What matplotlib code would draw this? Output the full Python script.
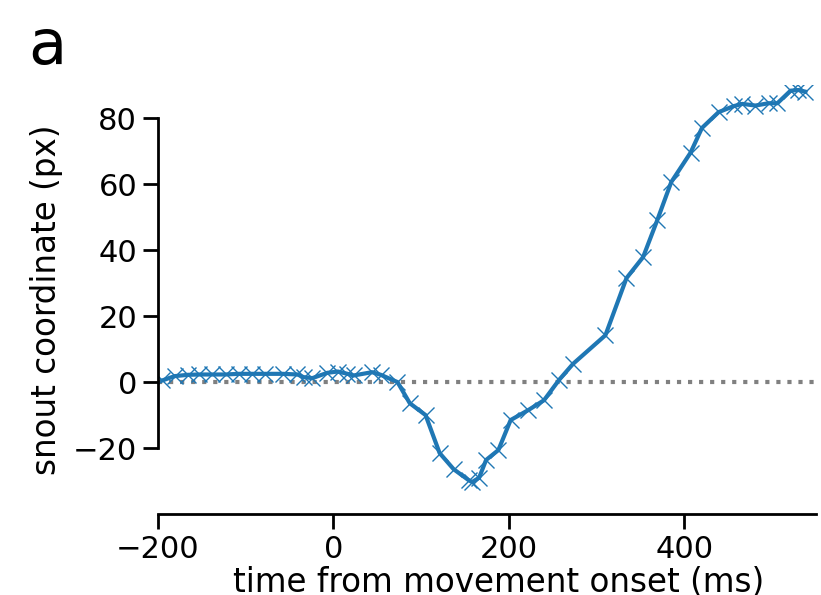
import numpy as np
import matplotlib
matplotlib.use("Agg")
import matplotlib.pyplot as plt

# snout trace (ms, px)
t_ms = [-195, -181, -166, -153, -138, -123, -108, -93, -78, -58,
        -41, -34, -24, -7, 5, 16, 23, 44, 54, 73,
        87, 105, 121, 137, 154, 158, 166, 174, 188, 202,
        222, 240, 257, 273, 310, 334, 353, 369, 385, 407,
        420, 439, 456, 466, 481, 496, 506, 521, 530, 538]
snout = [0.5, 1.8, 2.2, 2.3, 2.3, 2.3, 2.5, 2.5, 2.5, 2.5,
         2.3, 1.5, 1.2, 2.8, 3.2, 2.5, 2.0, 3.0, 2.2, 0.0,
         -6.4, -10.0, -21.5, -26.4, -29.7, -30.3, -29.0, -23.6, -20.6, -11.5,
         -8.5, -5.5, 0.6, 5.5, 14.2, 31.5, 37.9, 49.0, 60.6, 69.5,
         77.0, 81.8, 83.6, 84.3, 83.8, 84.5, 84.5, 88.3, 88.5, 88.0]

xticks = [-200, 0, 200, 400]
yticks = [-20, 0, 20, 40, 60, 80]

fig = plt.figure(figsize=(8.21, 5.95), dpi=100)
ax = fig.add_axes([0.1924, 0.136, 0.8015, 0.721])

ax.axhline(0, ls=':', color='gray', lw=3, zorder=1)
ax.plot(t_ms, snout, color='#1f77b4', lw=3, marker='x', ms=12,
        mew=1.0, zorder=2)

ax.set_xlim(-200, 550)
ax.set_ylim(-40, 90)
ax.set_xticks(xticks)
ax.set_yticks(yticks)

for s in ['top', 'right']:
    ax.spines[s].set_visible(False)
for s in ['left', 'bottom']:
    ax.spines[s].set_linewidth(2.0)
ax.spines['left'].set_bounds(-20, 80)

ax.tick_params(labelsize=22, length=11, width=2.0, pad=4)
ax.set_xlabel('time from movement onset (ms)', fontsize=23.5)
ax.xaxis.set_label_coords(0.517, -0.122)
ax.xaxis.label.set_va('top')
ax.set_ylabel('snout coordinate (px)', fontsize=23.5, labelpad=7)

fig.text(0.035, 0.893, 'a', fontsize=45)

plt.savefig("out.png", dpi=100)
